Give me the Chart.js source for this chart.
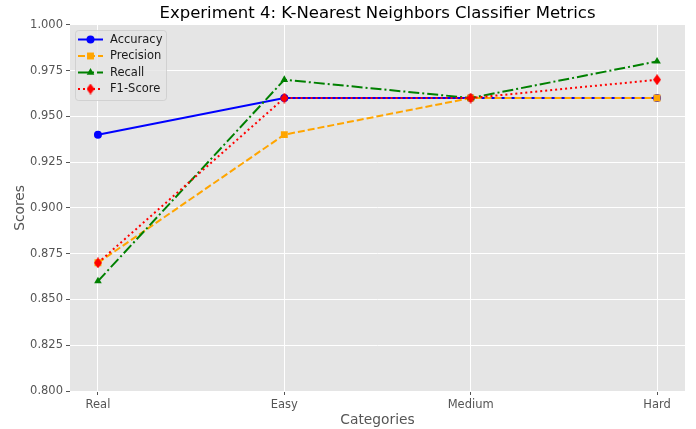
<!DOCTYPE html>
<html>
<head>
<meta charset="utf-8">
<script src="https://cdn.jsdelivr.net/npm/chart.js@4.4.1/dist/chart.umd.min.js"></script>
<style>
  html, body { margin: 0; padding: 0; background: #ffffff; }
  #wrap { width: 696px; height: 429px; }
</style>
</head>
<body>
<div id="wrap"><canvas id="c" width="696" height="429"></canvas></div>
<script>
const categories = ['Real', 'Easy', 'Medium', 'Hard'];
const accuracy  = [0.94, 0.96, 0.96, 0.96];
const precision = [0.87, 0.94, 0.96, 0.96];
const recall    = [0.86, 0.97, 0.96, 0.98];
const f1score   = [0.87, 0.96, 0.96, 0.97];
const yTicks = [0.800, 0.825, 0.850, 0.875, 0.900, 0.925, 0.950, 0.975, 1.000];

const FONT = "'DejaVu Sans', sans-serif";

function thinDiamond(color, w, h) {
  const c = document.createElement('canvas');
  c.width = w; c.height = h;
  const g = c.getContext('2d');
  g.fillStyle = color;
  g.beginPath();
  g.moveTo(w / 2, 0); g.lineTo(w, h / 2); g.lineTo(w / 2, h); g.lineTo(0, h / 2);
  g.closePath(); g.fill();
  return c;
}
const diamondImg = thinDiamond('#ff0000', 8, 11);

function toPts(arr) { return arr.map((v, i) => ({ x: i, y: v })); }

const series = [
  { label: 'Accuracy',  data: accuracy,  color: '#0000ff', dash: [],            style: 'circle',   radius: 4 },
  { label: 'Precision', data: precision, color: '#ffa500', dash: [7, 3],        style: 'rect',     radius: 4.9 },
  { label: 'Recall',    data: recall,    color: '#008000', dash: [11, 3, 2, 3], style: 'triangle', radius: 4.4 },
  { label: 'F1-Score',  data: f1score,   color: '#ff0000', dash: [2, 3],        style: diamondImg, radius: 5 }
];

const bgPlugin = {
  id: 'plotBg',
  beforeDraw(chart) {
    const { ctx, chartArea: a } = chart;
    ctx.save();
    ctx.fillStyle = '#e5e5e5';
    ctx.fillRect(a.left, a.top, a.right - a.left, a.bottom - a.top);
    ctx.restore();
  }
};

function drawMarker(ctx, s, x, y) {
  ctx.save();
  ctx.fillStyle = s.color;
  if (s.style === 'circle') {
    ctx.beginPath(); ctx.arc(x, y, s.radius, 0, Math.PI * 2); ctx.fill();
  } else if (s.style === 'rect') {
    const h = s.radius * Math.SQRT1_2;
    ctx.fillRect(x - h, y - h, 2 * h, 2 * h);
  } else if (s.style === 'triangle') {
    const r = s.radius;
    ctx.beginPath();
    ctx.moveTo(x, y - r);
    ctx.lineTo(x + r * Math.sin(Math.PI * 2 / 3), y - r * Math.cos(Math.PI * 2 / 3));
    ctx.lineTo(x - r * Math.sin(Math.PI * 2 / 3), y - r * Math.cos(Math.PI * 2 / 3));
    ctx.closePath(); ctx.fill();
  } else {
    ctx.drawImage(s.style, x - s.style.width / 2, y - s.style.height / 2);
  }
  ctx.restore();
}

const legendPlugin = {
  id: 'insideLegend',
  afterDraw(chart) {
    const ctx = chart.ctx;
    const bx = 75.5, by = 30.5, bw = 91, bh = 70, r = 3;
    ctx.save();
    ctx.beginPath();
    ctx.moveTo(bx + r, by);
    ctx.lineTo(bx + bw - r, by); ctx.quadraticCurveTo(bx + bw, by, bx + bw, by + r);
    ctx.lineTo(bx + bw, by + bh - r); ctx.quadraticCurveTo(bx + bw, by + bh, bx + bw - r, by + bh);
    ctx.lineTo(bx + r, by + bh); ctx.quadraticCurveTo(bx, by + bh, bx, by + bh - r);
    ctx.lineTo(bx, by + r); ctx.quadraticCurveTo(bx, by, bx + r, by);
    ctx.closePath();
    ctx.fillStyle = 'rgba(229,229,229,0.8)';
    ctx.fill();
    ctx.strokeStyle = 'rgba(204,204,204,0.8)';
    ctx.lineWidth = 1;
    ctx.stroke();
    ctx.font = '11.5px ' + FONT;
    ctx.textBaseline = 'middle';
    ctx.textAlign = 'left';
    series.forEach((s, i) => {
      const y = 39.5 + i * 16.5;
      ctx.save();
      ctx.strokeStyle = s.color;
      ctx.lineWidth = 2;
      ctx.setLineDash(s.dash);
      ctx.beginPath(); ctx.moveTo(78, y); ctx.lineTo(103, y); ctx.stroke();
      ctx.restore();
      drawMarker(ctx, s, 90.5, y);
      ctx.fillStyle = '#1a1a1a';
      ctx.fillText(s.label, 110, y + 0.5);
    });
    ctx.restore();
  }
};

const datasets = series.map((s, i) => ({
  label: s.label,
  data: toPts(s.data),
  borderColor: s.color,
  backgroundColor: s.color,
  borderWidth: 2,
  borderDash: s.dash,
  borderCapStyle: 'butt',
  pointStyle: s.style,
  pointRadius: s.radius,
  pointBorderWidth: 0,
  pointBackgroundColor: s.color,
  pointBorderColor: s.color,
  tension: 0,
  fill: false,
  order: series.length - i
}));

new Chart(document.getElementById('c'), {
  type: 'line',
  data: { datasets },
  options: {
    responsive: false,
    animation: false,
    events: [],
    devicePixelRatio: window.devicePixelRatio || 1,
    layout: { padding: { left: 0, right: 11, top: 0, bottom: 0 } },
    plugins: {
      legend: { display: false },
      tooltip: { enabled: false },
      title: {
        display: true,
        text: 'Experiment 4: K-Nearest Neighbors Classifier Metrics',
        color: '#000000',
        font: { family: FONT, size: 16.5, weight: 'normal' },
        padding: { top: 4, bottom: 1 },
        fullSize: false
      }
    },
    scales: {
      x: {
        type: 'linear',
        min: -0.15,
        max: 3.15,
        afterBuildTicks(scale) { scale.ticks = categories.map((c, i) => ({ value: i })); },
        afterFit(scale) { scale.height = 38; },
        ticks: {
          callback: (v) => categories[v],
          color: '#555555',
          font: { family: FONT, size: 11.5 },
          padding: 3,
          maxRotation: 0,
          autoSkip: false
        },
        grid: { color: '#ffffff', lineWidth: 1, tickColor: '#555555', tickLength: 4, drawTicks: true },
        border: { display: false },
        title: {
          display: true,
          text: 'Categories',
          color: '#555555',
          font: { family: FONT, size: 13.8 },
          padding: { top: 0, bottom: 0 }
        }
      },
      y: {
        type: 'linear',
        min: 0.8,
        max: 1.0,
        afterBuildTicks(scale) { scale.ticks = yTicks.map(v => ({ value: v })); },
        afterFit(scale) { scale.width = 70; },
        ticks: {
          callback: (v) => Number(v).toFixed(3),
          color: '#555555',
          font: { family: FONT, size: 11.5 },
          padding: 3
        },
        grid: { color: '#ffffff', lineWidth: 1, tickColor: '#555555', tickLength: 4, drawTicks: true },
        border: { display: false },
        title: {
          display: true,
          text: 'Scores',
          color: '#555555',
          font: { family: FONT, size: 13.8 },
          padding: { top: 12, bottom: 0 }
        }
      }
    }
  },
  plugins: [bgPlugin, legendPlugin]
});
</script>
</body>
</html>
